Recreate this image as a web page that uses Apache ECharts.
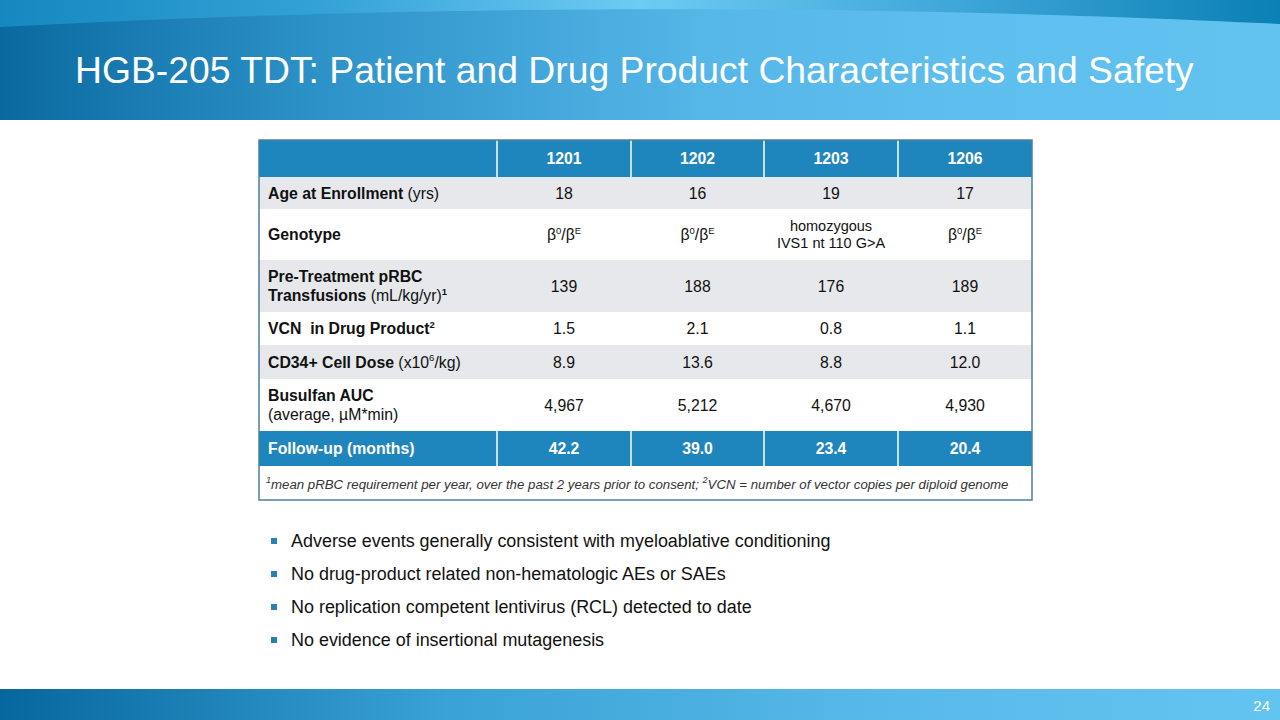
<!DOCTYPE html>
<html><head><meta charset="utf-8">
<script src="https://cdn.jsdelivr.net/npm/echarts@6/dist/echarts.min.js"></script>
<style>html,body{margin:0;padding:0;background:#fff}#main{width:1280px;height:720px}</style>
</head><body><div id="main"></div>
<script>
// ---------------- data ----------------
const slideTitle = 'HGB-205 TDT: Patient and Drug Product Characteristics and Safety';
const patientIds = ['1201', '1202', '1203', '1206'];
const ageAtEnrollment = [18, 16, 19, 17];
const genotypes = ['β0/βE', 'β0/βE', 'homozygous\nIVS1 nt 110 G>A', 'β0/βE'];
const preTreatmentTransfusions = [139, 188, 176, 189];
const vcnInDrugProduct = [1.5, 2.1, 0.8, 1.1];
const cd34CellDose = [8.9, 13.6, 8.8, 12.0];
const busulfanAUC = [4967, 5212, 4670, 4930];
const followUpMonths = [42.2, 39.0, 23.4, 20.4];
const rowLabels = [
  '',
  '{b|Age at Enrollment} (yrs)',
  '{b|Genotype}',
  '{b|Pre-Treatment pRBC}\n{b|Transfusions} (mL/kg/yr){bs|1}',
  '{b|VCN  in Drug Product}{bs|2}',
  '{b|CD34+ Cell Dose} (x10{s|6}/kg)',
  '{b|Busulfan AUC}\n(average, µM*min)',
  'Follow-up (months)'
];
const footnote = '{is|1}{i|mean pRBC requirement per year, over the past 2 years prior to consent; }{is|2}{i|VCN = number of vector copies per diploid genome}';
const bullets = [
  'Adverse events generally consistent with myeloablative conditioning',
  'No drug-product related non-hematologic AEs or SAEs',
  'No replication competent lentivirus (RCL) detected to date',
  'No evidence of insertional mutagenesis'
];
const pageNumber = '24';

// ---------------- layout ----------------
const FONT = '"Liberation Sans", Arial, sans-serif';
const FS = 15.8;
const colWeights = [238, 134, 133, 134, 134];
const rowWeights = [37, 32, 51, 52, 33, 34, 52, 35, 34];
const colEdges = [0]; colWeights.forEach(w => colEdges.push(colEdges[colEdges.length - 1] + w));
const rowEdges = [0]; rowWeights.forEach(w => rowEdges.push(rowEdges[rowEdges.length - 1] + w));
const totalW = colEdges[colEdges.length - 1], totalH = rowEdges[rowEdges.length - 1];

const fmtGeno = g => g.indexOf('β') === 0 ? g.replace(/β([0-9A-Z])/g, '{r|β}{s|$1}') : '{h|' + g.split('\n').join('}\n{h|') + '}';
const rows = [
  { kind: 'blue', values: patientIds },
  { kind: 'gray', values: ageAtEnrollment.map(String) },
  { kind: 'white', values: genotypes.map(fmtGeno) },
  { kind: 'gray', values: preTreatmentTransfusions.map(String) },
  { kind: 'white', values: vcnInDrugProduct.map(v => v.toFixed(1)) },
  { kind: 'gray', values: cd34CellDose.map(v => v.toFixed(1)) },
  { kind: 'white', values: busulfanAUC.map(v => v.toLocaleString('en-US')) },
  { kind: 'blue', values: followUpMonths.map(v => v.toFixed(1)) }
];
const cells = [];
rows.forEach((row, r) => {
  cells.push([0, r, rowLabels[r]]);
  row.values.forEach((v, i) => cells.push([i + 1, r, v]));
});
cells.push([0, rows.length, footnote, 'span']);

const fills = { blue: '#1f86bd', gray: '#e6e8ec', white: '#ffffff' };
const richBase = {
  b: { fontWeight: 'bold', fontSize: FS, lineHeight: 19, fontFamily: FONT, fill: '#111' },
  r: { fontSize: FS, lineHeight: 19, fontFamily: FONT, fill: '#111' },
  s: { fontSize: 9.5, lineHeight: 15, verticalAlign: 'top', fontFamily: FONT, fill: '#111' },
  bs: { fontSize: 9.5, lineHeight: 15, verticalAlign: 'top', fontWeight: 'bold', fontFamily: FONT, fill: '#111' },
  h: { fontSize: 14.5, lineHeight: 17, fontFamily: FONT, fill: '#111' },
  i: { fontSize: 13.25, lineHeight: 17, fontStyle: 'italic', fontFamily: FONT, fill: '#333' },
  is: { fontSize: 9, lineHeight: 12, fontStyle: 'italic', verticalAlign: 'top', fontFamily: FONT, fill: '#333' }
};

function renderCell(params, api) {
  const c = api.value(0), r = api.value(1);
  const item = cells[params.dataIndex];
  const span = item[3] === 'span';
  const x0 = colEdges[c], x1 = span ? totalW : colEdges[c + 1];
  const y0 = rowEdges[r], y1 = rowEdges[r + 1];
  const p0 = api.coord([x0, y0]), p1 = api.coord([x1, y1]);
  const kind = span ? 'white' : rows[r].kind;
  const children = [{
    type: 'rect',
    shape: { x: p0[0], y: p0[1], width: p1[0] - p0[0], height: p1[1] - p0[1] },
    style: { fill: fills[kind] }
  }];
  if (kind === 'blue' && c > 0) {
    children.push({
      type: 'line',
      shape: { x1: p0[0], y1: p0[1], x2: p0[0], y2: p1[1] },
      style: { stroke: '#ffffff', lineWidth: 1.5 }
    });
  }
  const isBlue = kind === 'blue';
  children.push({
    type: 'text',
    style: {
      text: item[2],
      x: (c === 0) ? p0[0] + (span ? 7 : 9) : (p0[0] + p1[0]) / 2,
      y: (p0[1] + p1[1]) / 2 + (span ? 1 : 0),
      align: c === 0 ? 'left' : 'center',
      verticalAlign: 'middle',
      fontSize: FS,
      lineHeight: 19,
      fontFamily: FONT,
      fontWeight: isBlue ? 'bold' : 'normal',
      fill: isBlue ? '#ffffff' : '#111',
      rich: richBase
    }
  });
  return { type: 'group', children };
}

function renderBorder(params, api) {
  const p0 = api.coord([0, 0]), p1 = api.coord([totalW, totalH]);
  return {
    type: 'rect',
    shape: { x: p0[0], y: p0[1], width: p1[0] - p0[0], height: p1[1] - p0[1] },
    style: { fill: 'none', stroke: '#4d7f9e', lineWidth: 1.5 }
  };
}

// header band shape (quadratic curve top edge)
const bandPts = [];
for (let i = 0; i <= 64; i++) {
  const t = i / 64;
  const x = 2 * (1 - t) * t * 640 + t * t * 1280;
  const y = (1 - t) * (1 - t) * 27 + 2 * (1 - t) * t * (-7) + t * t * 24;
  bandPts.push([x, y]);
}
bandPts.push([1280, 120], [0, 120]);

const LG = echarts.graphic.LinearGradient;
const graphics = [
  { type: 'rect', z: 0, shape: { x: 0, y: 0, width: 1280, height: 40 },
    style: { fill: new LG(0, 0, 1, 0, [
      { offset: 0, color: '#1688c0' }, { offset: 0.25, color: '#33a2d6' },
      { offset: 0.5, color: '#6ecbf3' }, { offset: 0.75, color: '#3ea6d8' }, { offset: 1, color: '#0a80b5' }]) } },
  { type: 'polygon', z: 1, shape: { points: bandPts },
    style: { fill: new LG(0, 0, 1, 0, [
      { offset: 0, color: '#0a6aa0' }, { offset: 0.25, color: '#2d92c8' },
      { offset: 0.55, color: '#55b6e8' }, { offset: 0.75, color: '#5ebfee' }, { offset: 1, color: '#62c2f0' }]) } },
  { type: 'text', z: 2, style: { text: slideTitle, x: 75, y: 70, verticalAlign: 'middle',
      fontSize: 37.3, fontFamily: FONT, fill: '#ffffff' } },
  { type: 'rect', z: 0, shape: { x: 0, y: 689, width: 1280, height: 31 },
    style: { fill: new LG(0, 0, 1, 0, [
      { offset: 0, color: '#06679d' }, { offset: 0.35, color: '#3aa2d6' }, { offset: 0.7, color: '#58bae9' }, { offset: 1, color: '#64c4f1' }]) } },
  { type: 'text', z: 2, style: { text: pageNumber, x: 1270, y: 705, align: 'right', verticalAlign: 'middle',
      fontSize: 15, fontFamily: '"Liberation Sans Narrow", "Liberation Sans", Arial', fill: '#ffffff' } }
];
bullets.forEach((b, i) => {
  const cy = 541 + i * 33;
  graphics.push({ type: 'rect', z: 2, shape: { x: 271, y: cy - 3, width: 6, height: 6 }, style: { fill: '#2a7fb8' } });
  graphics.push({ type: 'text', z: 2, style: { text: b, x: 291, y: cy, verticalAlign: 'middle',
    fontSize: 17.95, fontFamily: FONT, fill: '#111' } });
});

const chart = echarts.init(document.getElementById('main'), null, { renderer: 'svg', width: 1280, height: 720 });
chart.setOption({
  animation: false,
  backgroundColor: '#ffffff',
  grid: { left: 259, top: 140, width: 773, height: 360 },
  xAxis: { type: 'value', min: 0, max: totalW, show: false },
  yAxis: { type: 'value', min: 0, max: totalH, inverse: true, show: false },
  graphic: graphics,
  series: [
    { type: 'custom', renderItem: renderCell, data: cells.map(c => [c[0], c[1]]), encode: { x: 0, y: 1 }, clip: false, silent: true },
    { type: 'custom', renderItem: renderBorder, data: [[0, 0]], z: 5, clip: false, silent: true }
  ]
});
</script>
</body></html>
